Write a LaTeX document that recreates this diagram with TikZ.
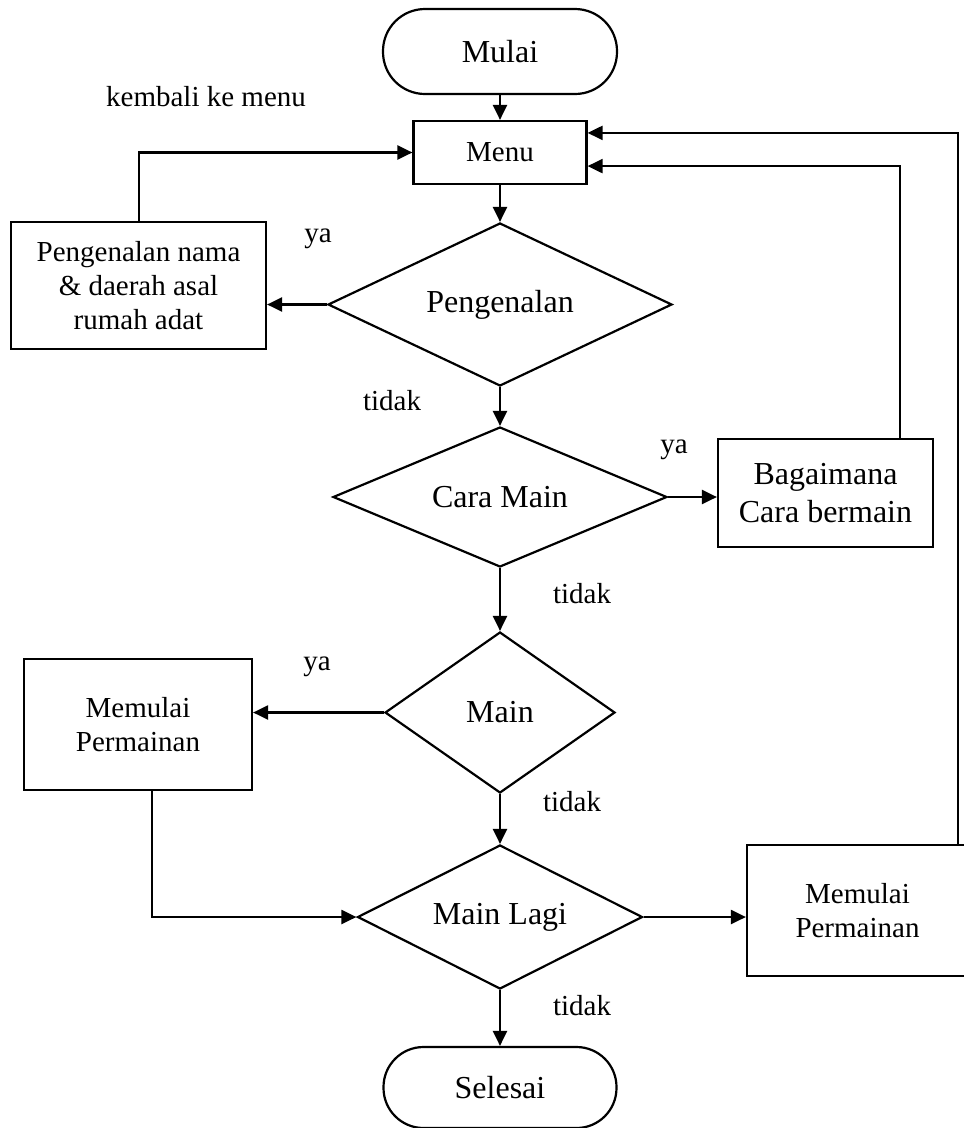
\documentclass[tikz,border=0pt]{standalone}
\usepackage{fontspec}
\setmainfont{Liberation Serif}
\usetikzlibrary{shapes.geometric,arrows.meta,calc}
\begin{document}
\begin{tikzpicture}[x=1pt,y=-1pt,line width=2.2pt,
  big/.style={font=\fontsize{32}{38}\selectfont},
  small/.style={font=\fontsize{29}{34}\selectfont},
  term/.style={draw,rectangle,big,inner sep=0pt},
  box/.style={draw,rectangle,align=center,inner sep=0pt},
  dec/.style={draw,diamond,big,inner sep=1pt},
  lbl/.style={small,anchor=base,inner sep=0pt},
  arr/.style={-{Triangle[length=15pt,width=14pt]}}]
\path[use as bounding box,clip] (0,0) rectangle (964,1128);
\node[term,minimum width=234pt,minimum height=85pt,rounded corners=42pt] (mulai) at (500,51.5) {Mulai};
\node[box,small,minimum width=173pt,minimum height=63pt] (menu) at (500,152.5) {Menu};
\node[dec,aspect=2.11,minimum width=344pt,minimum height=163pt] (peng) at (500,304.5) {Pengenalan};
\node[box,small,minimum width=255pt,minimum height=127pt] (pnama) at (138.5,285.5) {Pengenalan nama\\ \& daerah asal\\ rumah adat};
\node[dec,aspect=2.39,minimum width=334pt,minimum height=140pt] (cara) at (500,497) {Cara Main};
\node[box,big,minimum width=215pt,minimum height=108pt] (bagai) at (825.5,493) {Bagaimana\\ Cara bermain};
\node[dec,aspect=1.43,minimum width=230pt,minimum height=161pt] (main) at (500,712.5) {Main};
\node[box,small,minimum width=228pt,minimum height=131pt] (mp1) at (138,724.5) {Memulai\\ Permainan};
\node[dec,aspect=1.98,minimum width=285pt,minimum height=144pt] (mlagi) at (500,917) {Main Lagi};
\node[box,small,minimum width=221pt,minimum height=131pt] (mp2) at (857.5,910.5) {Memulai\\ Permainan};
\node[term,minimum width=233pt,minimum height=81pt,rounded corners=40pt] (selesai) at (500,1087.5) {Selesai};
\node[lbl] (kembali) at (206,106) {kembali ke menu};
\node[lbl] (ya1) at (318,242) {ya};
\node[lbl] (tidak1) at (392,410) {tidak};
\node[lbl] (ya2) at (674,453) {ya};
\node[lbl] (tidak2) at (582,603) {tidak};
\node[lbl] (ya3) at (317,670) {ya};
\node[lbl] (tidak3) at (572,811) {tidak};
\node[lbl] (tidak4) at (582,1015) {tidak};
\draw[arr] (mulai) -- (menu);
\draw[arr] (menu) -- (peng);
\draw[arr] (peng.west) -- (peng.west -| pnama.east);
\draw[arr] ($(pnama.north)+(0.5,0)$) |- (menu.west);
\draw[arr] (peng.south) -- (cara.north);
\draw[arr] (cara.east) -- (cara.east -| bagai.west);
\draw[arr] ($(bagai.north east)+(-34,0)$) |- ($(menu.south east)+(0,-19)$);
\draw[arr] (cara.south) -- (main.north);
\draw[arr] (main.west) -- (main.west -| mp1.east);
\draw[arr] (main.south) -- (mlagi.north);
\draw[arr] ($(mp1.south)+(14,0)$) |- (mlagi.west);
\draw[arr] (mlagi.east) -- (mlagi.east -| mp2.west);
\draw[arr] ($(mp2.north west)+(212,0)$) |- ($(menu.north east)+(0,13)$);
\draw[arr] (mlagi.south) -- (selesai.north);
\end{tikzpicture}
\end{document}
